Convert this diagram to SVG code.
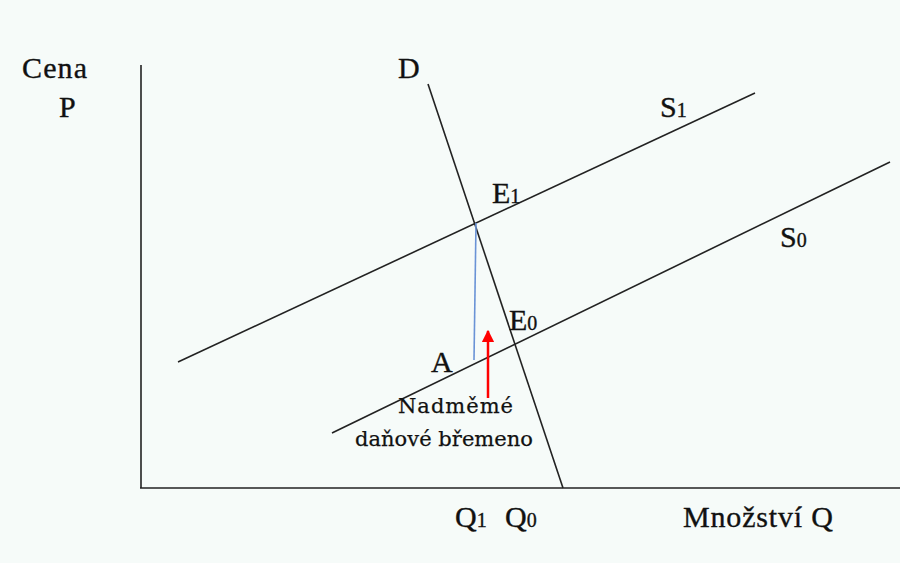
<svg xmlns="http://www.w3.org/2000/svg" width="900" height="563" viewBox="0 0 900 563">
<defs>
<style>
text{font-family:'Liberation Serif','Times New Roman',serif;fill:#111;stroke:#111;stroke-width:0.35}
.t{font-size:30px}
.s{font-size:20px}
.n{font-family:'DejaVu Serif','Liberation Serif',serif;font-size:21px;stroke-width:0.25}
.ln{stroke:#222;stroke-width:1.6;fill:none}
</style>
<marker id="ah" viewBox="0 0 10 10" refX="9" refY="5" markerWidth="5" markerHeight="5" orient="auto" markerUnits="strokeWidth">
<path d="M0,0 L10,5 L0,10 z" fill="#ff0000"/>
</marker>
</defs>
<rect width="900" height="563" fill="#f6fbf9"/>
<g id="axes">
<line class="ln" x1="141" y1="65" x2="141" y2="488" stroke-width="2"/>
<line class="ln" x1="140" y1="488" x2="900" y2="488" stroke-width="2"/>
</g>
<g id="connectors">
<line id="D" class="ln" x1="428" y1="84" x2="563" y2="488"/>
<line id="S1" class="ln" x1="178" y1="362" x2="755" y2="93"/>
<line id="S0" class="ln" x1="332" y1="433" x2="890" y2="162"/>
<line id="blue" x1="476" y1="223" x2="474" y2="360" stroke="#6a93d6" stroke-width="1.6"/>
<line id="arrow" x1="488" y1="398" x2="488" y2="331" stroke="#ff0000" stroke-width="2.5" marker-end="url(#ah)"/>
</g>
<g id="labels">
<text class="t" x="22" y="78" textLength="65">Cena</text>
<text class="t" x="59" y="117">P</text>
<text class="t" x="398" y="78">D</text>
<text class="t" x="660" y="117">S<tspan class="s">1</tspan></text>
<text class="t" x="492" y="203">E<tspan class="s">1</tspan></text>
<text class="t" x="780" y="247">S<tspan class="s">0</tspan></text>
<text class="t" x="509" y="330">E<tspan class="s">0</tspan></text>
<text class="t" x="431" y="372">A</text>
<text class="t" x="455" y="527">Q<tspan class="s">1</tspan></text>
<text class="t" x="505" y="527">Q<tspan class="s">0</tspan></text>
<text class="t" x="683" y="527" textLength="150">Množství Q</text>
<text class="n" x="398" y="413" textLength="115">Nadměmé</text>
<text class="n" x="355" y="446" textLength="178">daňové břemeno</text>
</g>
</svg>
